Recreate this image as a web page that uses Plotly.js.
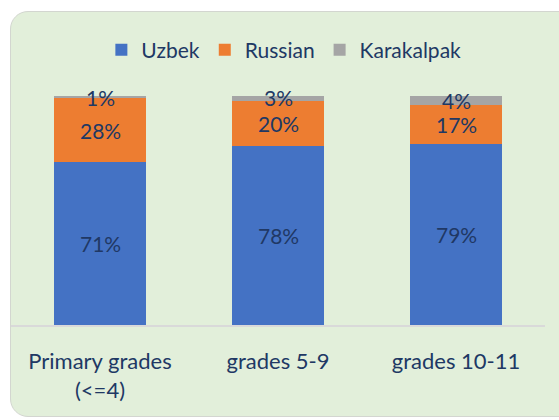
<!DOCTYPE html>
<html>
<head>
<meta charset="utf-8">
<script src="https://cdn.plot.ly/plotly-3.0.1.min.js"></script>
<style>
  html, body { margin: 0; padding: 0; background: #ffffff; }
  #wrap { position: relative; width: 559px; height: 420px; overflow: hidden; }
  #card { position: absolute; left: 10px; top: 11px; width: 580px; height: 406px;
          background: #e2efda; border: 1.5px solid #d3d6d0; border-radius: 18px; box-sizing: border-box; }
  #chart { position: absolute; left: 0; top: 0; width: 559px; height: 420px; }
</style>
</head>
<body>
<div id="wrap">
  <div id="card"></div>
  <div id="chart"></div>
</div>
<script>
const categories = ["Primary grades<br>(<=4)", "grades 5-9", "grades 10-11"];
const uzbek = [71, 78, 79];
const russian = [28, 20, 17];
const karakalpak = [1, 3, 4];

const txtColor = "#203864";
const fontFam = "Lato, 'Open Sans', sans-serif";

const seriesList = [
  { name: "Uzbek", vals: uzbek, color: "#4472c4" },
  { name: "Russian", vals: russian, color: "#ed7d31" },
  { name: "Karakalpak", vals: karakalpak, color: "#a5a5a5" }
];

const data = seriesList.map(s => ({
  type: "bar", name: s.name, x: categories, y: s.vals,
  marker: { color: s.color, line: { width: 0 } },
  hoverinfo: "skip"
}));

// data labels centred in each stacked segment
const annotations = [];
const base = categories.map(() => 0);
seriesList.forEach(s => {
  s.vals.forEach((v, i) => {
    annotations.push({
      xref: "x", yref: "y", x: categories[i], y: base[i] + v / 2,
      text: v + "%", showarrow: false, xanchor: "center", yanchor: "middle",
      font: { family: fontFam, size: 21, color: txtColor }
    });
    base[i] += v;
  });
});

const layout = {
  width: 559, height: 420,
  margin: { l: 11, r: 14, t: 96, b: 95, pad: 0 },
  paper_bgcolor: "rgba(0,0,0,0)", plot_bgcolor: "rgba(0,0,0,0)",
  barmode: "stack", bargap: 0.483,
  font: { family: fontFam, size: 22, color: txtColor },
  xaxis: {
    type: "category", showline: true, linecolor: "#d9d9d9", linewidth: 2,
    ticks: "", showgrid: false, zeroline: false, ticklabelstandoff: 16,
    tickfont: { family: fontFam, size: 22, color: txtColor }, automargin: false
  },
  yaxis: { range: [0, 100], visible: false, showgrid: false, zeroline: false, fixedrange: true },
  legend: {
    orientation: "h", x: 0.511, xanchor: "center", y: 1.2, yanchor: "middle",
    font: { family: fontFam, size: 21, color: txtColor },
    bgcolor: "rgba(0,0,0,0)", traceorder: "normal"
  },
  annotations: annotations,
  showlegend: true
};

Plotly.newPlot("chart", data, layout, { displayModeBar: false, staticPlot: true });
</script>
</body>
</html>
